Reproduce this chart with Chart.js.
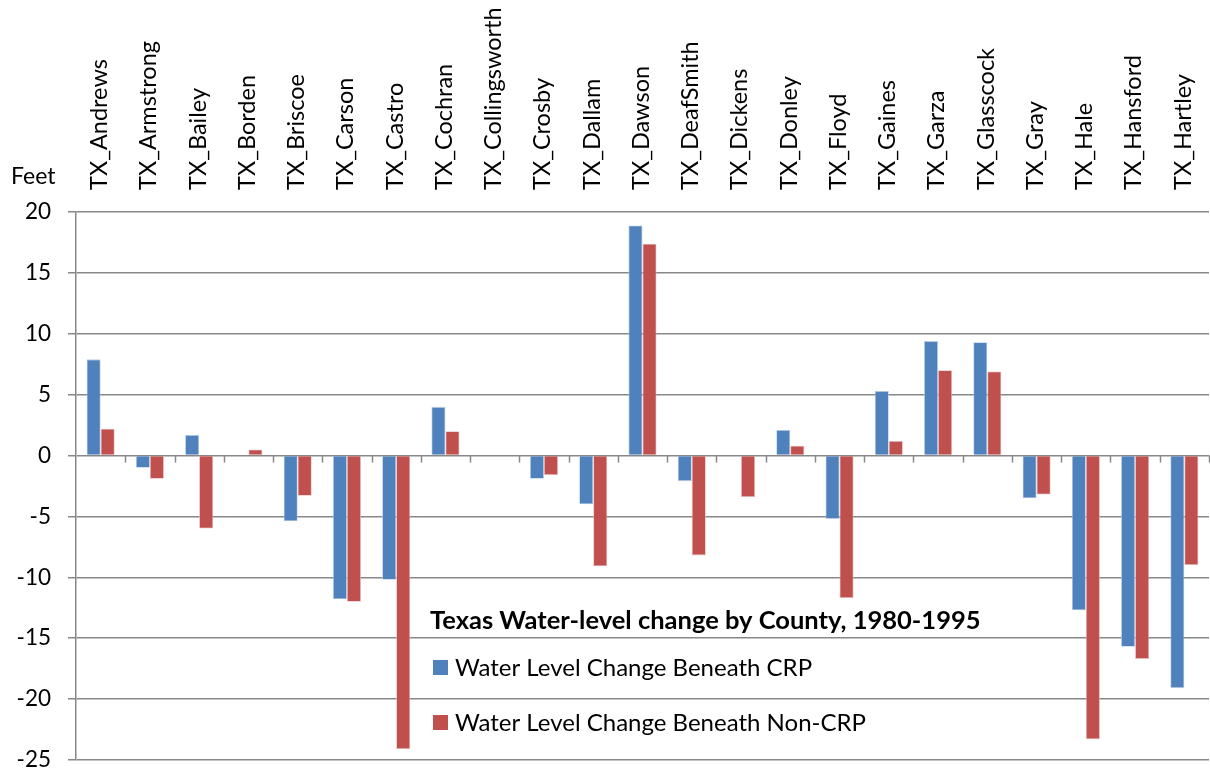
<!DOCTYPE html>
<html>
<head>
<meta charset="utf-8">
<script src="https://cdn.jsdelivr.net/npm/chart.js@4"></script>
<style>
  html, body { margin: 0; padding: 0; background: #fff; }
  #wrap { width: 1210px; height: 773px; }
</style>
</head>
<body>
<div id="wrap"><canvas id="waterChart" width="1210" height="773"></canvas></div>
<script>
const counties = ['TX_Andrews', 'TX_Armstrong', 'TX_Bailey', 'TX_Borden', 'TX_Briscoe', 'TX_Carson',
  'TX_Castro', 'TX_Cochran', 'TX_Collingsworth', 'TX_Crosby', 'TX_Dallam', 'TX_Dawson', 'TX_DeafSmith',
  'TX_Dickens', 'TX_Donley', 'TX_Floyd', 'TX_Gaines', 'TX_Garza', 'TX_Glasscock', 'TX_Gray',
  'TX_Hale', 'TX_Hansford', 'TX_Hartley'];
const crpChange = [7.9, -1.0, 1.7, 0, -5.4, -11.8, -10.2, 4.0, 0, -1.9, -4.0, 18.9, -2.1,
  0, 2.1, -5.2, 5.3, 9.4, 9.3, -3.5, -12.7, -15.7, -19.1];
const nonCrpChange = [2.2, -1.9, -6.0, 0.5, -3.3, -12.0, -24.1, 2.0, 0, -1.6, -9.1, 17.4, -8.2,
  -3.4, 0.8, -11.7, 1.2, 7.0, 6.9, -3.2, -23.3, -16.7, -9.0];
const yTicks = [20, 15, 10, 5, 0, -5, -10, -15, -20, -25];
const chartTitle = 'Texas Water-level change by County, 1980-1995';
const seriesNames = ['Water Level Change Beneath CRP', 'Water Level Change Beneath Non-CRP'];

const FONT = 'Lato, "Open Sans", sans-serif';
const GRID = '#888888';

// title, legend, "Feet" and the little ticks on the zero line
const extras = {
  id: 'extras',
  afterDatasetsDraw(chart) {
    const { ctx, scales: { x, y } } = chart;
    ctx.save();
    ctx.strokeStyle = GRID;
    ctx.lineWidth = 1.5;
    const zero = y.getPixelForValue(0);
    for (let i = 1; i <= counties.length; i++) {
      const px = Math.round(x.getPixelForValue(i - 0.5)) + 0.5;
      ctx.beginPath();
      ctx.moveTo(px, zero);
      ctx.lineTo(px, zero + 7);
      ctx.stroke();
    }

    ctx.fillStyle = '#000';
    ctx.textBaseline = 'middle';
    ctx.textAlign = 'left';
    ctx.font = '23px ' + FONT;
    ctx.fillText('Feet', 11, 177);

    ctx.font = 'bold 25.5px ' + FONT;
    ctx.fillText(chartTitle, 430, 621);

    ctx.font = '24px ' + FONT;
    chart.data.datasets.forEach((ds, i) => {
      const cy = 667 + i * 55;
      ctx.fillStyle = ds.backgroundColor;
      ctx.fillRect(433, cy - 7, 15, 15);
      ctx.fillStyle = '#000';
      ctx.fillText(ds.label, 455, cy + 1);
    });
    ctx.restore();
  }
};

new Chart(document.getElementById('waterChart').getContext('2d'), {
  type: 'bar',
  data: {
    labels: counties,
    datasets: [
      {
        label: seriesNames[0],
        data: crpChange,
        backgroundColor: '#4F81BD',
        borderColor: '#B9CDE5',
        borderWidth: 0.8
      },
      {
        label: seriesNames[1],
        data: nonCrpChange,
        backgroundColor: '#C0504D',
        borderColor: '#E6B9B8',
        borderWidth: 0.8
      }
    ]
  },
  options: {
    responsive: false,
    animation: false,
    layout: { padding: { left: 0, right: 1, top: 0, bottom: 13 } },
    plugins: {
      legend: { display: false },
      tooltip: { enabled: false },
      title: { display: false }
    },
    datasets: {
      bar: { categoryPercentage: 0.57, barPercentage: 1.0 }
    },
    scales: {
      x: {
        position: 'top',
        grid: { display: false, drawTicks: false },
        border: { display: false },
        ticks: {
          minRotation: 90,
          maxRotation: 90,
          autoSkip: false,
          padding: 22,
          labelOffset: 27,
          color: '#000',
          font: { family: FONT, size: 23.5 }
        },
        afterFit(scale) { scale.height = 212; }
      },
      y: {
        min: -25,
        max: 20,
        afterBuildTicks(scale) { scale.ticks = yTicks.map(v => ({ value: v })); },
        grid: { color: GRID, lineWidth: 1.5, tickLength: 8 },
        border: { display: true, color: GRID, width: 1.5 },
        ticks: {
          padding: 17,
          color: '#000',
          font: { family: FONT, size: 22.5 }
        },
        afterFit(scale) {
          scale.width = 76;
          scale.paddingTop = 0;
          scale.paddingBottom = 0;
        }
      }
    }
  },
  plugins: [extras]
});
</script>
</body>
</html>
